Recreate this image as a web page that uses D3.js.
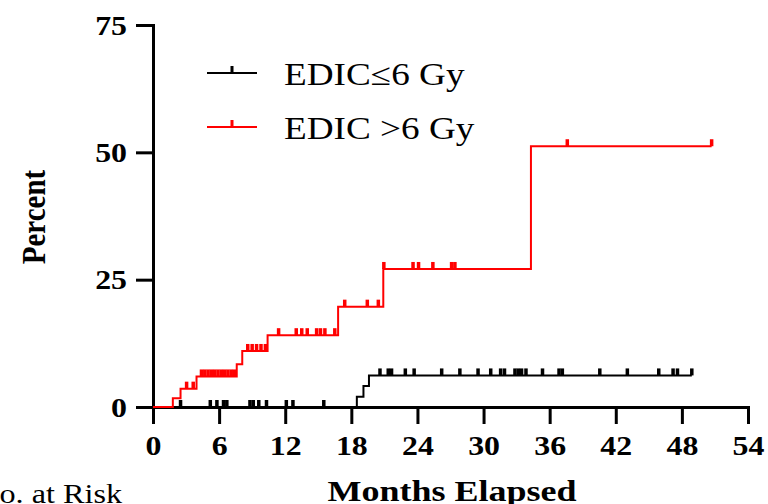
<!DOCTYPE html>
<html>
<head>
<meta charset="utf-8">
<script src="https://cdn.jsdelivr.net/npm/d3@7"></script>
<style>
  body { margin: 0; background: #fff; }
  svg { display: block; }
</style>
</head>
<body>
<div id="chart"></div>
<script>
const WIDTH = 768;
const HEIGHT = 504;
const SERIF = "'Liberation Serif', 'Times New Roman', serif";

// cumulative incidence steps, [month, percent]
const lowDoseSteps = [[0, 0], [18.5, 2.0], [19.1, 4.1], [19.6, 6.2]];
const lowDoseEnd = 48.9;
const lowDoseCensored = [2.5, 5.2, 5.8, 6.4, 6.7, 8.8, 9.1, 9.6, 10.3, 12.1, 12.7, 15.5,
  20.6, 21.35, 21.65, 22.9, 23.7, 26.2, 27.85, 29.5, 30.65, 31.55, 31.9, 32.85, 33.15,
  33.45, 33.85, 35.35, 36.85, 37.15, 40.55, 43.05, 45.9, 47.2, 47.6, 48.9];

const highDoseSteps = [[0, 0], [1.8, 1.7], [2.5, 3.6], [3.95, 6.0], [7.6, 8.4], [8.1, 11.0],
  [10.4, 14.1], [16.8, 19.7], [20.9, 27.1], [34.3, 51.2]];
const highDoseEnd = 50.7;
const highDoseCensored = [3.05, 3.65, 4.4, 4.7, 5.0, 5.3, 5.6, 5.9, 6.2, 6.5, 6.8, 7.1, 7.4,
  8.6, 9.0, 9.4, 9.8, 10.2, 11.4, 13.0, 13.5, 14.0, 14.85, 15.2, 15.6, 16.5,
  17.4, 19.45, 20.45, 20.95, 23.6, 24.1, 25.4, 27.1, 27.4, 37.6, 50.7];

const seriesLabels = ["EDIC\u22646 Gy", "EDIC >6 Gy"];
const seriesColors = ["#000000", "#ff0000"];
const xTicks = [0, 6, 12, 18, 24, 30, 36, 42, 48, 54];
const yTicks = [0, 25, 50, 75];

let margin = {top: 25, right: 20, bottom: 97, left: 153};
let width = 748 - margin.left;
let height = 407 - margin.top;
const STRETCH = 1.15;

let svg = d3.select("#chart").append("svg")
    .attr("width", WIDTH)
    .attr("height", HEIGHT);
let g = svg.append("g")
    .attr("transform", "translate(" + margin.left + "," + margin.top + ")");

let xScale = d3.scaleLinear().domain([0, 54]).range([0, width]);
let yScale = d3.scaleLinear().domain([0, 75]).range([height, 0]);

// x-axis
let xAxis = d3.axisBottom(xScale).tickValues(xTicks).tickSize(17).tickSizeOuter(17);
let xg = g.append("g")
    .attr("transform", "translate(0," + height + ")")
    .call(xAxis);
xg.selectAll("text")
    .attr("y", 48)
    .attr("dy", null)
    .attr("transform", "scale(1.18,1)")
    .style("font-family", SERIF)
    .style("font-weight", "bold")
    .style("font-size", "27px")
    .attr("fill", "#000");

// y-axis
let yAxis = d3.axisLeft(yScale).tickValues(yTicks).tickSize(17).tickSizeOuter(17);
let yg = g.append("g").call(yAxis);
yg.selectAll("text")
    .attr("x", -26 / 1.18)
    .attr("dy", "0.34em")
    .attr("transform", "scale(1.18,1)")
    .style("font-family", SERIF)
    .style("font-weight", "bold")
    .style("font-size", "27px")
    .attr("fill", "#000");

svg.selectAll(".domain, .tick line")
    .attr("stroke", "#000")
    .attr("stroke-width", 3);

// axis titles
svg.append("text")
    .attr("transform", "translate(45,217) scale(" + STRETCH + ",1) rotate(-90)")
    .attr("text-anchor", "middle")
    .style("font-family", SERIF)
    .style("font-weight", "bold")
    .style("font-size", "29px")
    .text("Percent");

svg.append("text")
    .attr("transform", "translate(452,501) scale(1.2,1)")
    .attr("text-anchor", "middle")
    .style("font-family", SERIF)
    .style("font-weight", "bold")
    .style("font-size", "30px")
    .text("Months Elapsed");

// cut off at the left edge, as in the source figure
svg.append("text")
    .attr("transform", "translate(122,503) scale(" + STRETCH + ",1)")
    .attr("text-anchor", "end")
    .style("font-family", SERIF)
    .style("font-size", "28px")
    .text("No. at Risk");

// curves
let line = d3.line()
    .x(function(d) { return xScale(d[0]); })
    .y(function(d) { return yScale(d[1]); })
    .curve(d3.curveStepAfter);

function valueAt(steps, t) {
  let v = 0;
  for (const s of steps) { if (s[0] <= t) v = s[1]; }
  return v;
}

let series = [
  {steps: lowDoseSteps, end: lowDoseEnd, censored: lowDoseCensored, color: seriesColors[0]},
  {steps: highDoseSteps, end: highDoseEnd, censored: highDoseCensored, color: seriesColors[1]}
];

series.forEach(function(s) {
  let pts = s.steps.concat([[s.end, s.steps[s.steps.length - 1][1]]]);
  g.append("path")
      .datum(pts)
      .attr("fill", "none")
      .attr("stroke", s.color)
      .attr("stroke-width", 2)
      .attr("d", line);
  g.selectAll(null)
      .data(s.censored)
    .enter().append("rect")
      .attr("x", function(d) { return xScale(d) - 1.75; })
      .attr("y", function(d) { return yScale(valueAt(s.steps, d)) - 7; })
      .attr("width", 3.5)
      .attr("height", 7)
      .attr("fill", s.color);
});

// legend
let legend = svg.append("g");
seriesLabels.forEach(function(label, i) {
  let ly = 73 + i * 54;
  legend.append("line")
      .attr("x1", 207).attr("x2", 257)
      .attr("y1", ly).attr("y2", ly)
      .attr("stroke", seriesColors[i])
      .attr("stroke-width", 2);
  legend.append("rect")
      .attr("x", 230.5).attr("y", ly - 7)
      .attr("width", 3).attr("height", 7)
      .attr("fill", seriesColors[i]);
  legend.append("text")
      .attr("transform", "translate(284," + (ly + 12) + ") scale(1.2,1)")
      .style("font-family", SERIF)
      .style("font-size", "31px")
      .attr("fill", "#000")
      .text(label);
});
</script>
</body>
</html>
